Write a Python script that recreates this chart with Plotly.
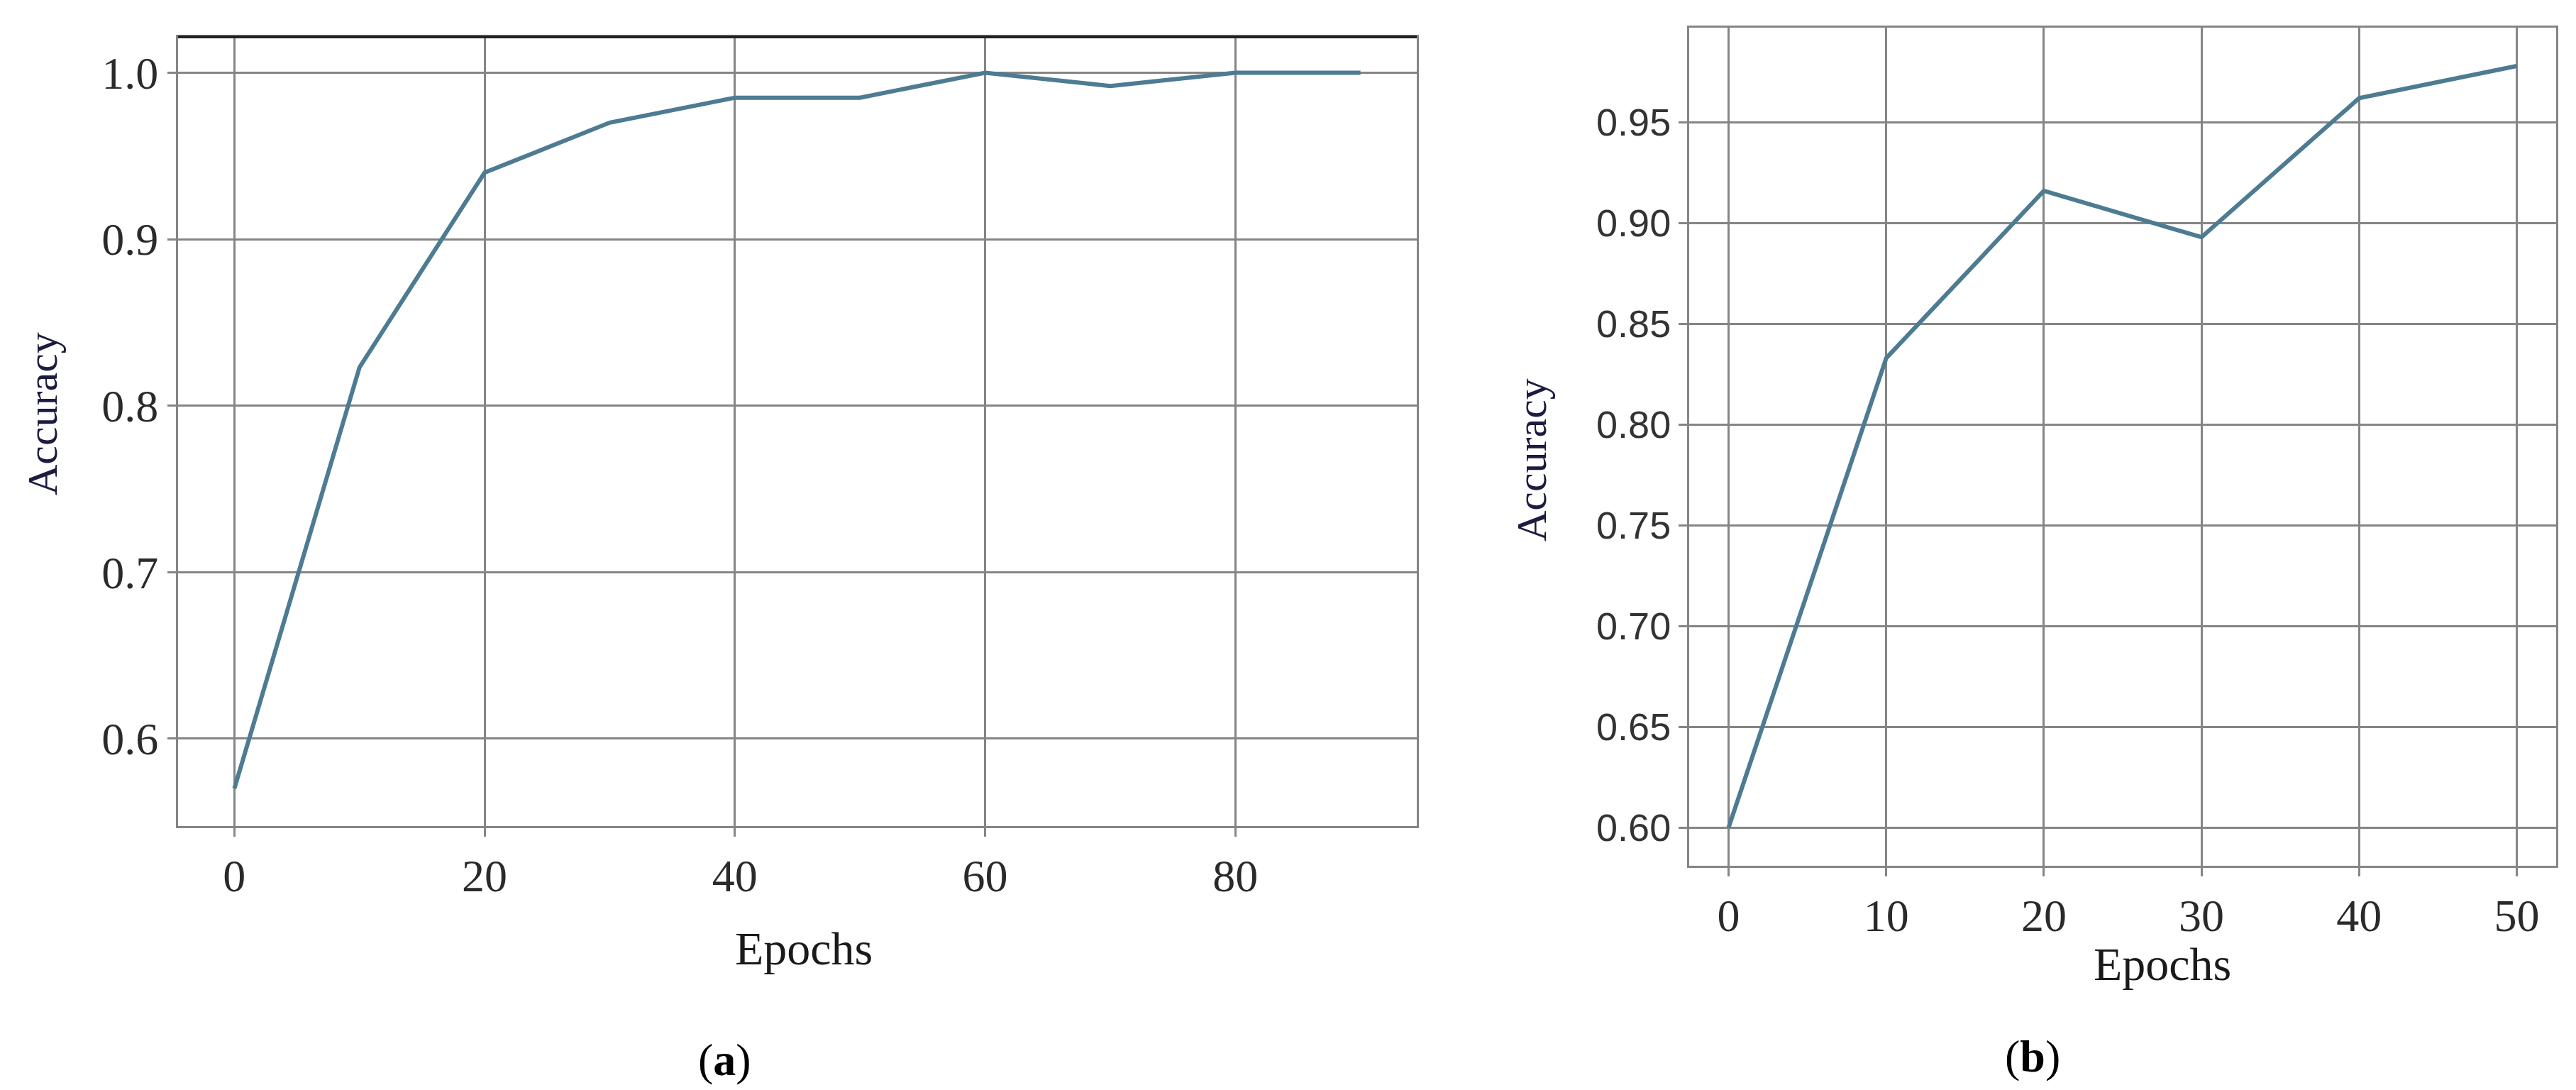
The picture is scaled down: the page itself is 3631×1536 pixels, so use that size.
import plotly.graph_objects as go

epochs_a = [0, 10, 20, 30, 40, 50, 60, 70, 80, 90]
acc_a = [0.57, 0.823, 0.94, 0.97, 0.985, 0.985, 1.0, 0.992, 1.0, 1.0]
epochs_b = [0, 10, 20, 30, 40, 50]
acc_b = [0.60, 0.833, 0.916, 0.893, 0.962, 0.978]
yticks_a = [0.6, 0.7, 0.8, 0.9, 1.0]
yticks_b = [0.60, 0.65, 0.70, 0.75, 0.80, 0.85, 0.90, 0.95]

W, H = 3631, 1536
LINE = "#4d7b92"
GRID = "#858585"
serif = "Liberation Serif"

fig = go.Figure()
fig.add_trace(go.Scatter(x=epochs_a, y=acc_a, mode="lines", line=dict(color=LINE, width=6),
                         xaxis="x", yaxis="y", showlegend=False))
fig.add_trace(go.Scatter(x=epochs_b, y=acc_b, mode="lines", line=dict(color=LINE, width=6),
                         xaxis="x2", yaxis="y2", showlegend=False))

common = dict(showgrid=True, gridcolor=GRID, gridwidth=3, showline=True, linecolor=GRID, linewidth=3,
              mirror=True, ticks="outside", tickcolor=GRID, ticklen=12, tickwidth=3, zeroline=False)

fig.update_layout(
    width=W, height=H, margin=dict(l=0, r=0, t=0, b=0),
    paper_bgcolor="white", plot_bgcolor="white",
    xaxis=dict(domain=[243/W, 1989/W], range=[-4.5, 94.5], tickvals=[0, 20, 40, 60, 80],
               tickfont=dict(family=serif, size=64, color="#2a2a2a"), anchor="y", **common),
    yaxis=dict(domain=[(H-1156)/H, (H-44)/H], range=[0.5475, 1.0215], tickvals=yticks_a,
               ticktext=[f"{v:.1f}" for v in yticks_a],
               tickfont=dict(family=serif, size=64, color="#2a2a2a"), anchor="x", **common),
    xaxis2=dict(domain=[2373/W, 3595/W], range=[-2.5, 52.5], tickvals=epochs_b,
                tickfont=dict(family=serif, size=64, color="#2a2a2a"), anchor="y2", **common),
    yaxis2=dict(domain=[(H-1212)/H, (H-31)/H], range=[0.581, 0.997], tickvals=yticks_b,
                ticktext=[f"{v:.2f}" for v in yticks_b],
                tickfont=dict(family="Liberation Sans", size=54, color="#333333"), anchor="x2", **common),
)

fig.add_shape(type="line", xref="paper", yref="paper", x0=243/W, x1=1989/W, y0=(H-44)/H, y1=(H-44)/H,
              line=dict(color="#222222", width=4))

def ann(text, x, y, size, rot=0, color="#1a1a1a"):
    fig.add_annotation(text=text, x=x/W, y=(H-y)/H, xref="paper", yref="paper", showarrow=False,
                       textangle=rot, font=dict(family=serif, size=size, color=color),
                       xanchor="center", yanchor="middle")

ann("Epochs", 1125, 1328, 66)
ann("Epochs", 3040, 1350, 66)
ann("Accuracy", 52, 575, 60, rot=-90, color="#1c1c40")
ann("Accuracy", 2151, 640, 60, rot=-90, color="#1c1c40")
ann("(<b>a</b>)", 1013, 1485, 64, color="#000000")
ann("(<b>b</b>)", 2857, 1480, 64, color="#000000")

fig.write_html("out.html")
